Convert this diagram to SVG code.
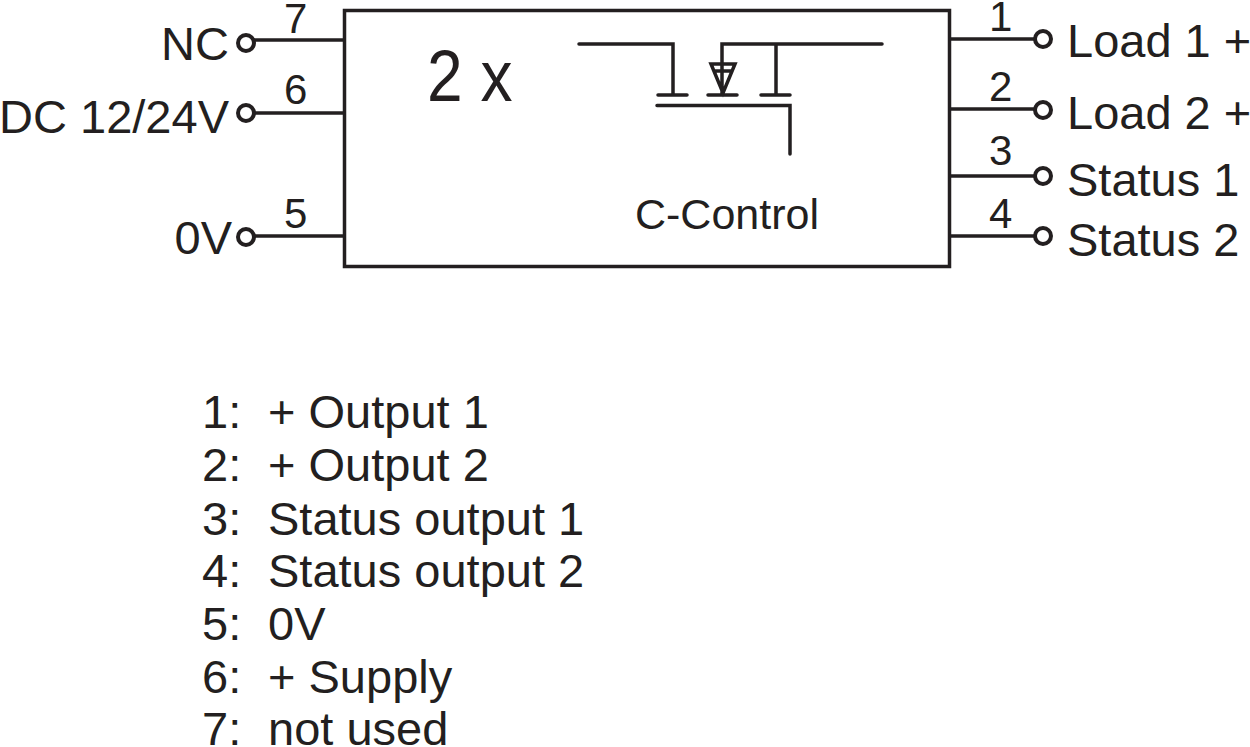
<svg xmlns="http://www.w3.org/2000/svg" width="1250" height="747" viewBox="0 0 1250 747">
<style>
text{font-family:"Liberation Sans",Arial,sans-serif;fill:#231f20}
.l{font-size:47px}
.n{font-size:42px}
.k{font-size:47px}
.w{stroke:#231f20;stroke-width:3.500;fill:none}
.p{stroke:#231f20;stroke-width:4;fill:#fff}
</style>
<rect width="1250" height="747" fill="#fff"/>
<g id="block"><rect x="344.500" y="10.500" width="605" height="256" class="w"/>
<text x="427" y="101" font-size="72" transform="translate(427 0) scale(.89 1) translate(-427 0)">2 x</text>
<text x="635" y="229" font-size="43">C-Control</text></g>
<g id="mosfet" class="w" stroke-linecap="round">
<path d="M579 44H673V95M658 95H687M882 44H722V95M708 95H737M761 95H790M776 44V95M657 105.500H790V154M711 64H735L723 93L711 64ZM714 71H732"/>
</g>
<g id="connectors" class="w">
<path d="M252 40H344M252 113H344M252 236H344M949 39H1036M949 109H1036M949 176H1036M949 236H1036"/>
</g>
<g id="pin7"><circle cx="246" cy="43" r="8" class="p"/><text x="229" y="60" text-anchor="end" class="l">NC</text><text x="284" y="33" class="n">7</text></g>
<g id="pin6"><circle cx="246" cy="113" r="8" class="p"/><text x="229" y="133" text-anchor="end" class="l">DC 12/24V</text><text x="284" y="104" class="n">6</text></g>
<g id="pin5"><circle cx="246" cy="237" r="8" class="p"/><text x="232" y="254" text-anchor="end" class="l">0V</text><text x="284" y="228" class="n">5</text></g>
<g id="pin1"><circle cx="1043" cy="39" r="8" class="p"/><text x="1067" y="57" class="l">Load 1 +</text><text x="989" y="31" class="n">1</text></g>
<g id="pin2"><circle cx="1043" cy="110" r="8" class="p"/><text x="1067" y="129" class="l">Load 2 +</text><text x="989" y="101" class="n">2</text></g>
<g id="pin3"><circle cx="1043" cy="176" r="8" class="p"/><text x="1067" y="196" class="l">Status 1</text><text x="989" y="165" class="n">3</text></g>
<g id="pin4"><circle cx="1043" cy="236" r="8" class="p"/><text x="1067" y="256" class="l">Status 2</text><text x="989" y="228" class="n">4</text></g>
<g id="key">
<text x="202" y="428" class="k">1:</text><text x="268" y="428" class="k">+ Output 1</text>
<text x="202" y="481" class="k">2:</text><text x="268" y="481" class="k">+ Output 2</text>
<text x="202" y="535" class="k">3:</text><text x="268" y="535" class="k">Status output 1</text>
<text x="202" y="587" class="k">4:</text><text x="268" y="587" class="k">Status output 2</text>
<text x="202" y="640" class="k">5:</text><text x="268" y="640" class="k">0V</text>
<text x="202" y="693" class="k">6:</text><text x="268" y="693" class="k">+ Supply</text>
<text x="202" y="745" class="k">7:</text><text x="268" y="745" class="k">not used</text>
</g>
</svg>
